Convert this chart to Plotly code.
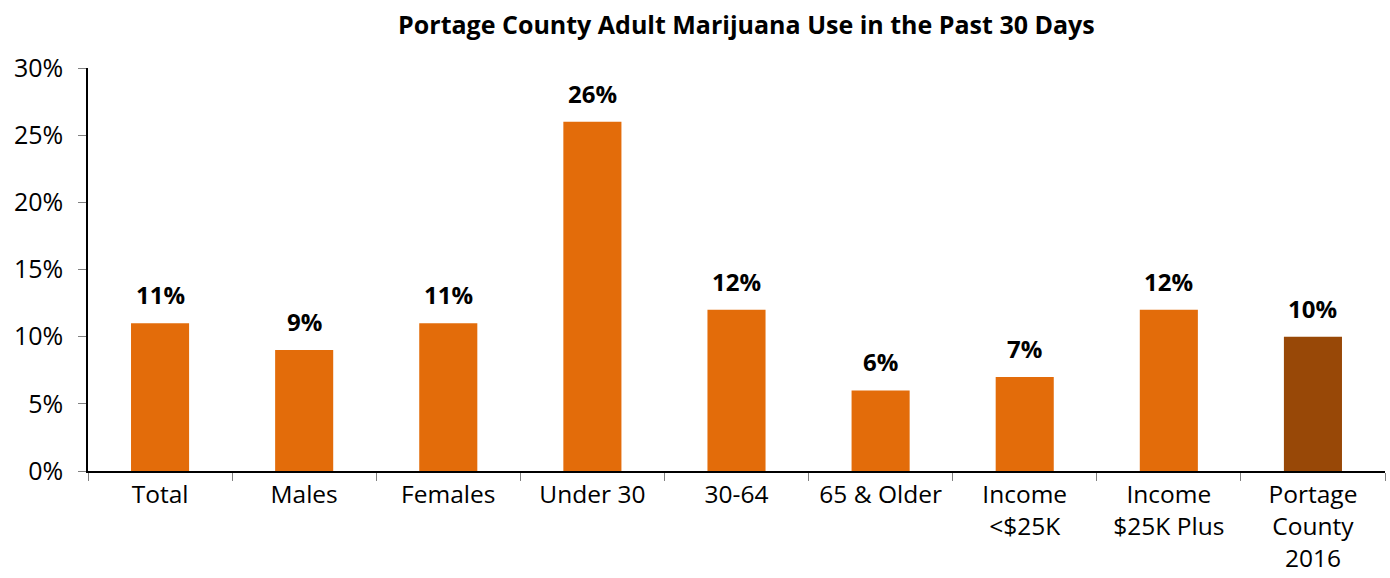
import plotly.graph_objects as go

categories = ["Total", "Males", "Females", "Under 30", "30-64", "65 & Older",
              "Income<br><$25K", "Income<br>$25K Plus", "Portage<br>County<br>2016"]
values = [11, 9, 11, 26, 12, 6, 7, 12, 10]
colors = ["#E36C0A"] * 8 + ["#984807"]
tick_vals = [0, 5, 10, 15, 20, 25, 30]
tick_text = ["0%", "5%", "10%", "15%", "20%", "25%", "30%"]

FONT = "Open Sans"

fig = go.Figure(go.Bar(
    x=categories,
    y=values,
    marker=dict(color=colors, line=dict(width=0)),
    hoverinfo="skip",
))

# value labels above each bar
for cat, val in zip(categories, values):
    fig.add_annotation(
        x=cat, y=val, text=f"<b>{val}%</b>",
        showarrow=False, yanchor="bottom", yshift=10,
        font=dict(family=FONT, size=24, color="#000000"),
    )

fig.update_layout(
    width=1390, height=578,
    margin=dict(l=88, r=5, t=68, b=107),
    paper_bgcolor="white", plot_bgcolor="white",
    bargap=0.597,
    showlegend=False,
    title=dict(text="<b>Portage County Adult Marijuana Use in the Past 30 Days</b>",
               x=0.537, xanchor="center", y=0.957, yanchor="middle",
               font=dict(family=FONT, size=25, color="#000000")),
    font=dict(family=FONT, size=25, color="#000000"),
)

fig.update_xaxes(
    showline=True, linecolor="#000000", linewidth=1.5,
    ticks="outside", tickson="boundaries", ticklen=8, tickcolor="#808080", tickwidth=1,
    ticklabelstandoff=1, automargin=False,
    tickfont=dict(family=FONT, size=24.5, color="#000000"),
    showgrid=False, zeroline=False,
)
fig.update_yaxes(
    range=[0, 30], tickvals=tick_vals, ticktext=tick_text,
    showline=True, linecolor="#000000", linewidth=1.5,
    ticks="outside", ticklen=8, tickcolor="#808080", tickwidth=1,
    ticklabelstandoff=10, automargin=False,
    tickfont=dict(family=FONT, size=25, color="#000000"),
    showgrid=False, zeroline=False,
)

fig.write_html("out.html")
